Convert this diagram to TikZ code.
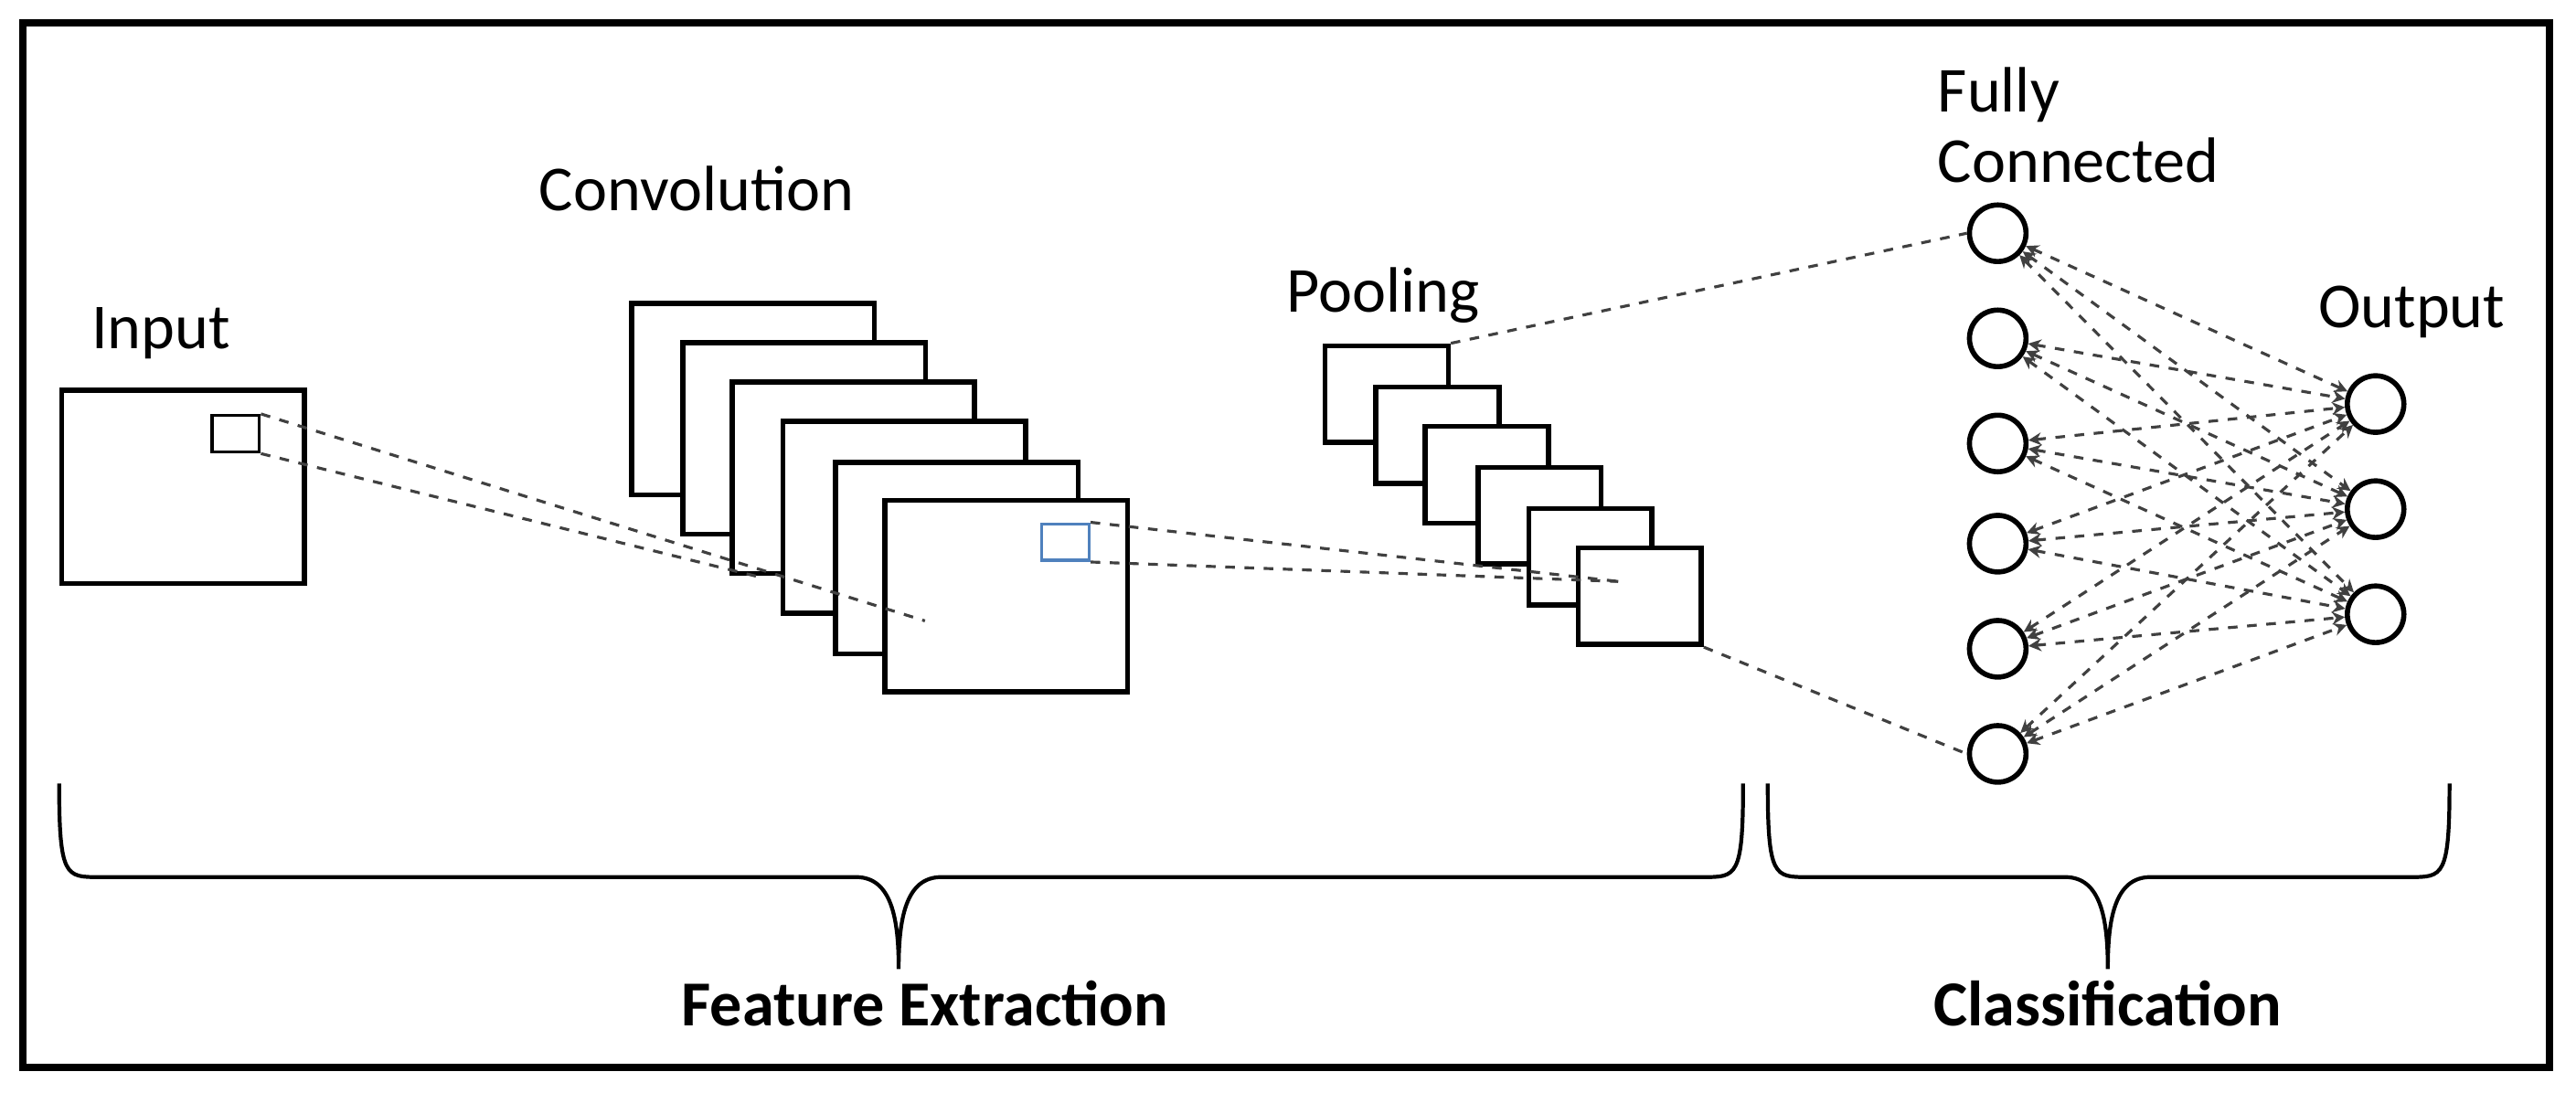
\documentclass[tikz,border=0pt]{standalone}
\usepackage{fontspec}
\setmainfont{Carlito}
\usetikzlibrary{arrows.meta,positioning}
\definecolor{patchblue}{RGB}{79,129,189}
\tikzset{fmap/.style={draw,fill=white,line width=1.6pt,anchor=north west,inner sep=0pt}}
\tikzset{unit/.style={draw,circle,line width=1.6pt,minimum size=0.62cm,inner sep=0pt,fill=white}}
\newcommand{\cnnbrace}[3]{\draw[line width=1.2pt] (#1,477) .. controls (#1,534) and (#1+4,534) .. (#1+24,534) -- (#2-26,534) .. controls (#2-4,534) and (#2,560) .. (#2,590) .. controls (#2,560) and (#2+4,534) .. (#2+26,534) -- (#3-24,534) .. controls (#3-4,534) and (#3,534) .. (#3,477);}

\begin{document}
\begin{tikzpicture}[
        x=0.018cm, y=-0.018cm,
        font=\fontsize{20}{22}\selectfont,
        link/.style={dashed,line width=0.9pt,black!75},
        fclink/.style={link,{Stealth[length=4pt,width=4pt]}-{Stealth[length=4pt,width=4pt]}},
        mylabel/.style={inner sep=0pt},
    ]
    \useasboundingbox (0,0) rectangle (1568,665);
    \draw[line width=2.2pt] (14,14) rectangle (1552,650);

    % Input map with its patch
    \node[fmap, minimum width=2.66cm, minimum height=2.12cm] (input) at (36,236) {};
    \node[fmap, line width=1pt, minimum width=0.52cm, minimum height=0.4cm] (patch) at (128,252) {};
    \node[mylabel] (inlab) at (98,203) {Input};

    % Convolution maps conv1..conv6
    \foreach \i/\x/\y in {1/383/183, 2/414/207, 3/444/231, 4/475/255, 5/507/280, 6/537/303}
        \node[fmap, minimum width=2.66cm, minimum height=2.1cm] (conv\i) at (\x,\y) {};
    \node[draw=patchblue, line width=1pt, anchor=north west, inner sep=0pt,
          minimum width=0.52cm, minimum height=0.4cm] (cpatch) at (633,318) {};
    \node[mylabel] (convlab) at (424,115) {Convolution};

    % Pooling maps pool1..pool6
    \foreach \i/\x/\y in {1/805/209, 2/836/234, 3/866/258, 4/898/283, 5/929/308, 6/959/332}
        \node[fmap, minimum width=1.35cm, minimum height=1.06cm] (pool\i) at (\x,\y) {};
    \node[mylabel] (poollab) at (842,180) {Pooling};

    % Fully connected and output units
    \foreach \i/\y in {1/142, 2/206, 3/270, 4/331, 5/395, 6/459}
        \node[unit] (fc\i) at (1216,\y) {};
    \foreach \j/\y in {1/246, 2/310, 3/374}
        \node[unit] (out\j) at (1446,\y) {};
    \node[mylabel, align=left] (fclab) at (1265,76) {Fully\\Connected};
    \node[mylabel] (outlab) at (1468,190) {Output};

    % Connections
    \coordinate (c1) at (563,378);
    \coordinate (c2) at (465,352);
    \coordinate (p1) at (985,354);
    \draw[link] (patch.north east) -- (c1);
    \draw[link] (patch.south east) -- (c2);
    \draw[link] (cpatch.north east) -- (p1);
    \draw[link] (cpatch.south east) -- (p1);
    \draw[link] (pool1.north east) -- (fc1.west);
    \draw[link] (pool6.south east) -- (fc6.west);
    \foreach \i in {1,...,6}
        \foreach \j in {1,2,3}
            \draw[fclink] (fc\i) -- (out\j);

    % Braces
    \cnnbrace{36}{547}{1061}
    \cnnbrace{1076}{1283}{1491}
    \node[font=\fontsize{20}{22}\selectfont\bfseries] (felab) at (563,611) {Feature Extraction};
    \node[font=\fontsize{20}{22}\selectfont\bfseries] (cllab) at (1283,611) {Classification};
\end{tikzpicture}
\end{document}
